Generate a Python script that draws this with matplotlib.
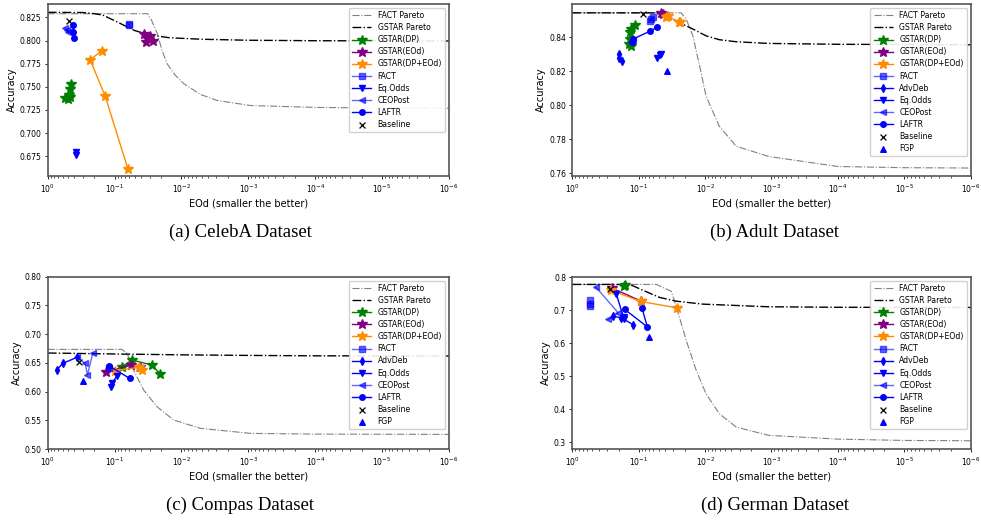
import matplotlib
matplotlib.use('Agg')
import matplotlib.pyplot as plt
import numpy as np

# ---------------- (a) CelebA ----------------
celeba_fact_pareto_eod = [1, 0.032, 0.028, 0.023, 0.0195, 0.0164, 0.0123, 0.0092, 0.0052, 0.0029, 0.00092, 1e-4, 1e-5, 1e-6]
celeba_fact_pareto_acc = [0.829, 0.829, 0.822, 0.8076, 0.7895, 0.775, 0.7623, 0.7533, 0.7417, 0.7351, 0.7297, 0.7277, 0.727, 0.7268]
celeba_gstar_pareto_eod = [1, 0.3, 0.2, 0.15, 0.1, 0.05, 0.03, 0.015, 0.005, 1e-3, 1e-4, 1e-6]
celeba_gstar_pareto_acc = [0.8305, 0.8303, 0.829, 0.8275, 0.8215, 0.8108, 0.806, 0.803, 0.8014, 0.8003, 0.7998, 0.7995]
celeba_dp_eod = [0.55, 0.49, 0.462, 0.452, 0.462, 0.479]
celeba_dp_acc = [0.7375, 0.737, 0.7388, 0.7533, 0.7478, 0.7415]
celeba_eod_eod = [0.0359, 0.0327, 0.0299, 0.0335, 0.0266]
celeba_eod_acc = [0.8069, 0.8022, 0.8047, 0.7986, 0.7996]
celeba_dpeod_eod = [0.155, 0.232, 0.138, 0.063]
celeba_dpeod_acc = [0.7888, 0.7793, 0.7399, 0.6609]
celeba_fact_eod = [0.0617, 0.0603]
celeba_fact_acc = [0.8178, 0.8163]
celeba_eqodds_eod = [0.376, 0.372]
celeba_eqodds_acc = [0.679, 0.6765]
celeba_ceopost_eod = [0.55, 0.52, 0.49]
celeba_ceopost_acc = [0.8138, 0.8115, 0.8087]
celeba_laftr_eod = [0.422, 0.412, 0.403]
celeba_laftr_acc = [0.8167, 0.8087, 0.8029]
celeba_base_eod = [0.479]
celeba_base_acc = [0.8214]

# ---------------- (b) Adult ----------------
adult_fact_pareto_eod = [1, 0.023, 0.0193, 0.0153, 0.0115, 0.0097, 0.0061, 0.0034, 0.0011, 1e-4, 1e-5, 1e-6]
adult_fact_pareto_acc = [0.8545, 0.8545, 0.851, 0.841, 0.8194, 0.8056, 0.7878, 0.776, 0.770, 0.7641, 0.7634, 0.7632]
adult_gstar_pareto_eod = [1, 0.06, 0.045, 0.035, 0.025, 0.0153, 0.0097, 0.0061, 0.0034, 0.0011, 1e-4, 1e-6]
adult_gstar_pareto_acc = [0.8545, 0.8545, 0.8535, 0.8515, 0.849, 0.845, 0.841, 0.8387, 0.8375, 0.8365, 0.836, 0.8357]
adult_dp_eod = [0.112, 0.129, 0.133, 0.136, 0.141, 0.132]
adult_dp_acc = [0.8474, 0.845, 0.843, 0.8391, 0.8361, 0.8351]
adult_eod_eod = [0.0457, 0.0437]
adult_eod_acc = [0.8545, 0.854]
adult_dpeod_eod = [0.0394, 0.0363, 0.0248, 0.0237]
adult_dpeod_acc = [0.8519, 0.8525, 0.849, 0.8494]
adult_fact_eod = [0.0684, 0.0646, 0.061]
adult_fact_acc = [0.8499, 0.8509, 0.8519]
adult_advdeb_eod = [0.1995, 0.197, 0.176]
adult_advdeb_acc = [0.8302, 0.8282, 0.8263]
adult_eqodds_eod = [0.0531, 0.0484, 0.0462]
adult_eqodds_acc = [0.8277, 0.8296, 0.8302]
adult_ceopost_eod = [0.129, 0.1216]
adult_ceopost_acc = [0.8375, 0.8387]
adult_laftr_eod = [0.1245, 0.1216, 0.0684, 0.0531]
adult_laftr_acc = [0.8371, 0.8391, 0.8436, 0.846]
adult_base_eod = [0.0861]
adult_base_acc = [0.8539]
adult_fgp_eod = [0.038]
adult_fgp_acc = [0.8205]

# ---------------- (c) Compas ----------------
compas_fact_pareto_eod = [1, 0.078, 0.065, 0.052, 0.0367, 0.0232, 0.013, 0.0052, 0.00092, 1e-4, 1e-6]
compas_fact_pareto_acc = [0.6735, 0.6735, 0.6665, 0.6375, 0.6027, 0.5737, 0.5504, 0.536, 0.5272, 0.526, 0.5255]
compas_gstar_pareto_eod = [1, 0.1, 0.01, 1e-3, 1e-4, 1e-6]
compas_gstar_pareto_acc = [0.6672, 0.6655, 0.664, 0.663, 0.6623, 0.662]
compas_dp_eod = [0.078, 0.055, 0.0275, 0.0207]
compas_dp_acc = [0.6433, 0.655, 0.6462, 0.6306]
compas_eod_eod = [0.133, 0.0575, 0.042]
compas_eod_acc = [0.6346, 0.6462, 0.6422]
compas_dpeod_eod = [0.1, 0.0437, 0.039]
compas_dpeod_acc = [0.6363, 0.6422, 0.6375]
compas_fact_eod = [0.12]
compas_fact_acc = [0.641]
compas_advdeb_eod = [0.733, 0.596, 0.363]
compas_advdeb_acc = [0.6375, 0.6492, 0.6597]
compas_eqodds_eod = [0.1135, 0.11, 0.092]
compas_eqodds_acc = [0.6075, 0.6144, 0.627]
compas_ceopost_eod = [0.363, 0.275, 0.254, 0.211]
compas_ceopost_acc = [0.6597, 0.6492, 0.6289, 0.6677]
compas_laftr_eod = [0.119, 0.0596]
compas_laftr_acc = [0.6445, 0.623]
compas_base_eod = [0.335]
compas_base_acc = [0.652]
compas_fgp_eod = [0.299]
compas_fgp_acc = [0.619]

# ---------------- (d) German ----------------
german_fact_pareto_eod = [1, 0.0543, 0.0324, 0.0288, 0.0232, 0.0193, 0.0136, 0.0097, 0.0061, 0.0034, 0.0011, 1e-4, 1e-5, 1e-6]
german_fact_pareto_acc = [0.7787, 0.7787, 0.758, 0.728, 0.665, 0.61, 0.5186, 0.4478, 0.387, 0.3466, 0.3213, 0.310, 0.306, 0.305]
german_gstar_pareto_eod = [1, 0.136, 0.0767, 0.0484, 0.0272, 0.0108, 0.0011, 1e-4, 1e-6]
german_gstar_pareto_acc = [0.7787, 0.7787, 0.7565, 0.7393, 0.728, 0.719, 0.711, 0.7095, 0.709]
german_dp_eod = [0.168, 0.16]
german_dp_acc = [0.7737, 0.776]
german_eod_eod = [0.251, 0.0933]
german_eod_acc = [0.7675, 0.7285]
german_dpeod_eod = [0.263, 0.0933, 0.0263]
german_dpeod_acc = [0.7614, 0.727, 0.7077]
german_fact_eod = [0.543, 0.543, 0.543]
german_fact_acc = [0.731, 0.72, 0.713]
german_advdeb_eod = [0.243, 0.182, 0.122]
german_advdeb_acc = [0.6825, 0.6774, 0.657]
german_eqodds_eod = [0.216, 0.166, 0.166]
german_eqodds_acc = [0.7484, 0.6725, 0.680]
german_ceopost_eod = [0.446, 0.203, 0.288]
german_ceopost_acc = [0.7715, 0.6925, 0.6725]
german_laftr_eod = [0.162, 0.074, 0.089]
german_laftr_acc = [0.7028, 0.650, 0.706]
german_base_eod = [0.27]
german_base_acc = [0.764]
german_fgp_eod = [0.071]
german_fgp_acc = [0.6188]

x_ticks = [1, 1e-1, 1e-2, 1e-3, 1e-4, 1e-5, 1e-6]
captions = ['(a) CelebA Dataset', '(b) Adult Dataset', '(c) Compas Dataset', '(d) German Dataset']
ylims = [(0.6535, 0.8395), (0.7585, 0.8597), (0.5, 0.8), (0.28, 0.802)]


def draw_panel(ax, d, with_adv):
    ax.plot(d['fact_pareto'][0], d['fact_pareto'][1], '-.', color='gray', lw=0.8, label='FACT Pareto', zorder=1)
    ax.plot(d['gstar_pareto'][0], d['gstar_pareto'][1], '-.', color='black', lw=1.0, label='GSTAR Pareto', zorder=1)
    ax.plot(*d['dp'], '-*', color='green', ms=7, lw=1, label='GSTAR(DP)')
    ax.plot(*d['eod'], '-*', color='purple', ms=7, lw=1, label='GSTAR(EOd)')
    ax.plot(*d['dpeod'], '-*', color='darkorange', ms=7, lw=1, label='GSTAR(DP+EOd)')
    ax.plot(*d['fact'], '-s', color='blue', alpha=0.6, ms=4, lw=1, label='FACT')
    if with_adv:
        ax.plot(*d['advdeb'], '-d', color='blue', ms=4, lw=1, label='AdvDeb')
    ax.plot(*d['eqodds'], '-v', color='blue', ms=4, lw=1, label='Eq.Odds')
    ax.plot(*d['ceopost'], '-<', color='blue', alpha=0.6, ms=4, lw=1, label='CEOPost')
    ax.plot(*d['laftr'], '-o', color='blue', ms=4, lw=1, label='LAFTR')
    ax.scatter(*d['base'], marker='x', color='black', s=18, lw=0.9, label='Baseline', zorder=5)
    if 'fgp' in d:
        ax.scatter(*d['fgp'], marker='^', color='blue', s=16, label='FGP', zorder=5)

    ax.set_xscale('log')
    ax.set_xlim(1, 1e-6)
    ax.set_xticks(x_ticks)
    ax.set_xlabel('EOd (smaller the better)', fontsize=7, labelpad=3)
    ax.set_ylabel('Accuracy', fontsize=7, labelpad=2)
    ax.tick_params(labelsize=5.5, length=2.5, width=0.6, pad=2)
    ax.tick_params(which='minor', length=1.5, width=0.5)
    for s in ax.spines.values():
        s.set_color('#555555')
        s.set_linewidth(1.2)
    ax.legend(loc='upper right', fontsize=5.6, handlelength=2.5, borderpad=0.4,
              labelspacing=0.4, framealpha=0.9)


panels = [
    dict(fact_pareto=(celeba_fact_pareto_eod, celeba_fact_pareto_acc),
         gstar_pareto=(celeba_gstar_pareto_eod, celeba_gstar_pareto_acc),
         dp=(celeba_dp_eod, celeba_dp_acc), eod=(celeba_eod_eod, celeba_eod_acc),
         dpeod=(celeba_dpeod_eod, celeba_dpeod_acc), fact=(celeba_fact_eod, celeba_fact_acc),
         eqodds=(celeba_eqodds_eod, celeba_eqodds_acc), ceopost=(celeba_ceopost_eod, celeba_ceopost_acc),
         laftr=(celeba_laftr_eod, celeba_laftr_acc), base=(celeba_base_eod, celeba_base_acc)),
    dict(fact_pareto=(adult_fact_pareto_eod, adult_fact_pareto_acc),
         gstar_pareto=(adult_gstar_pareto_eod, adult_gstar_pareto_acc),
         dp=(adult_dp_eod, adult_dp_acc), eod=(adult_eod_eod, adult_eod_acc),
         dpeod=(adult_dpeod_eod, adult_dpeod_acc), fact=(adult_fact_eod, adult_fact_acc),
         advdeb=(adult_advdeb_eod, adult_advdeb_acc),
         eqodds=(adult_eqodds_eod, adult_eqodds_acc), ceopost=(adult_ceopost_eod, adult_ceopost_acc),
         laftr=(adult_laftr_eod, adult_laftr_acc), base=(adult_base_eod, adult_base_acc),
         fgp=(adult_fgp_eod, adult_fgp_acc)),
    dict(fact_pareto=(compas_fact_pareto_eod, compas_fact_pareto_acc),
         gstar_pareto=(compas_gstar_pareto_eod, compas_gstar_pareto_acc),
         dp=(compas_dp_eod, compas_dp_acc), eod=(compas_eod_eod, compas_eod_acc),
         dpeod=(compas_dpeod_eod, compas_dpeod_acc), fact=(compas_fact_eod, compas_fact_acc),
         advdeb=(compas_advdeb_eod, compas_advdeb_acc),
         eqodds=(compas_eqodds_eod, compas_eqodds_acc), ceopost=(compas_ceopost_eod, compas_ceopost_acc),
         laftr=(compas_laftr_eod, compas_laftr_acc), base=(compas_base_eod, compas_base_acc),
         fgp=(compas_fgp_eod, compas_fgp_acc)),
    dict(fact_pareto=(german_fact_pareto_eod, german_fact_pareto_acc),
         gstar_pareto=(german_gstar_pareto_eod, german_gstar_pareto_acc),
         dp=(german_dp_eod, german_dp_acc), eod=(german_eod_eod, german_eod_acc),
         dpeod=(german_dpeod_eod, german_dpeod_acc), fact=(german_fact_eod, german_fact_acc),
         advdeb=(german_advdeb_eod, german_advdeb_acc),
         eqodds=(german_eqodds_eod, german_eqodds_acc), ceopost=(german_ceopost_eod, german_ceopost_acc),
         laftr=(german_laftr_eod, german_laftr_acc), base=(german_base_eod, german_base_acc),
         fgp=(german_fgp_eod, german_fgp_acc)),
]

fig = plt.figure(figsize=(9.81, 5.2), dpi=100)
rects = [[0.0486, 0.6615, 0.409, 0.3308],
         [0.5834, 0.6615, 0.406, 0.3308],
         [0.0486, 0.1365, 0.409, 0.3313],
         [0.5834, 0.1365, 0.406, 0.3313]]
cap_pos = [(0.245, 0.554), (0.79, 0.554), (0.245, 0.029), (0.79, 0.029)]

for i, p in enumerate(panels):
    ax = fig.add_axes(rects[i])
    draw_panel(ax, p, 'advdeb' in p)
    ax.set_ylim(*ylims[i])
    fig.text(cap_pos[i][0], cap_pos[i][1], captions[i], ha='center', va='center',
             fontsize=13.5, family='Liberation Serif')

plt.savefig('out.png', dpi=100)
plt.close()
